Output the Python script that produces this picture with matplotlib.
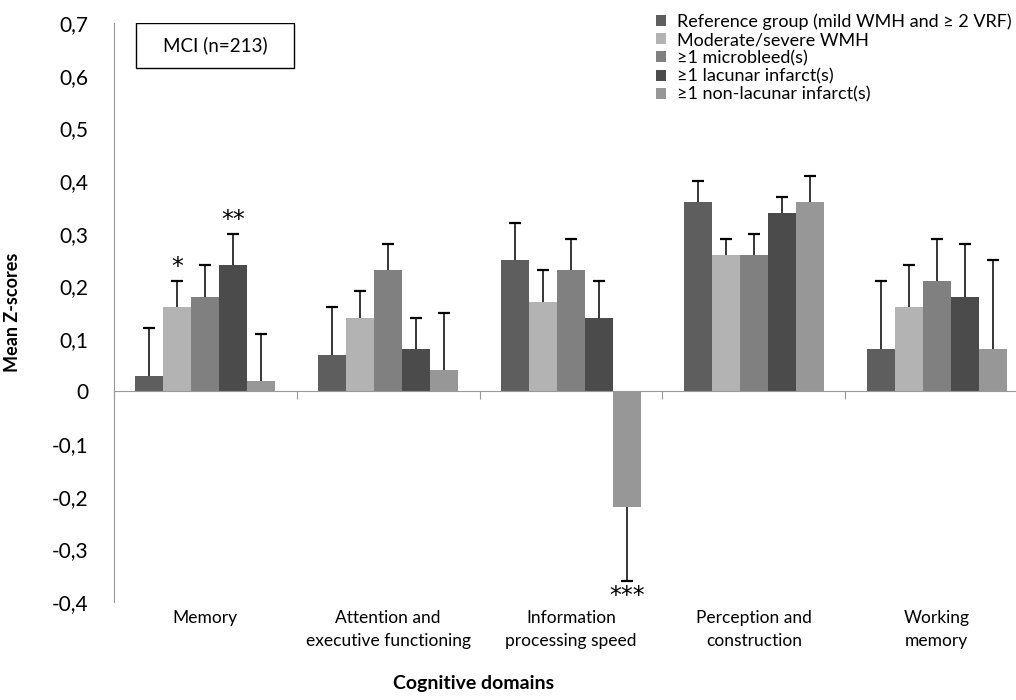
import numpy as np
import matplotlib.pyplot as plt
from matplotlib.patches import Rectangle
from matplotlib.transforms import blended_transform_factory

plt.rcParams['font.family'] = ['Lato', 'DejaVu Sans']

# Data
domains = ['Memory', 'Attention and\nexecutive functioning', 'Information\nprocessing speed',
           'Perception and\nconstruction', 'Working\nmemory']
groups = ['Reference group (mild WMH and \u2265 2 VRF)', 'Moderate/severe WMH',
          '\u22651 microbleed(s)', '\u22651 lacunar infarct(s)', '\u22651 non-lacunar infarct(s)']
reference = [0.03, 0.07, 0.25, 0.36, 0.08]
moderate = [0.16, 0.14, 0.17, 0.26, 0.16]
microbleed = [0.18, 0.23, 0.23, 0.26, 0.21]
lacunar = [0.24, 0.08, 0.14, 0.34, 0.18]
nonlacunar = [0.02, 0.04, -0.22, 0.36, 0.08]
err_reference = [0.09, 0.09, 0.07, 0.04, 0.13]
err_moderate = [0.05, 0.05, 0.06, 0.03, 0.08]
err_microbleed = [0.06, 0.05, 0.06, 0.04, 0.08]
err_lacunar = [0.06, 0.06, 0.07, 0.03, 0.10]
err_nonlacunar = [0.09, 0.11, 0.14, 0.05, 0.17]
colors = ['#5e5e5e', '#b3b3b3', '#808080', '#4b4b4b', '#979797']
yticks = np.arange(-0.4, 0.71, 0.1)

series = [reference, moderate, microbleed, lacunar, nonlacunar]
errors = [err_reference, err_moderate, err_microbleed, err_lacunar, err_nonlacunar]

fig = plt.figure(figsize=(10.16, 7.0), dpi=100)
ax = fig.add_axes([0.112, 0.14, 0.90, 0.827])

x = np.arange(len(domains))
w = 0.153
for i, (vals, errs) in enumerate(zip(series, errors)):
    pos = x + (i - 2) * w
    ax.bar(pos, vals, w, color=colors[i], label=groups[i], zorder=2)
    # one-sided error bars, pointing away from the bar, cap only at the tip
    vals = np.array(vals)
    errs = np.array(errs)
    tips = vals + np.sign(vals) * errs
    ax.vlines(pos, vals, tips, color='black', linewidth=1.1, zorder=3)
    ax.plot(pos, tips, linestyle='none', marker='_', markersize=8,
            markeredgewidth=1.6, color='black', zorder=3)

# significance stars
star_font = dict(ha='center', fontsize=17, family='DejaVu Sans')
ax.text(x[0] - w, 0.213, '*', va='bottom', **star_font)
ax.text(x[0] + w, 0.303, '**', va='bottom', **star_font)
ax.text(x[2] + 2 * w, -0.366, '***', va='top', **star_font)

ax.set_ylim(-0.4, 0.7)
ax.set_xlim(-0.5, len(domains) - 0.5)
ax.set_yticks(yticks)
ax.set_yticklabels([('0' if abs(t) < 1e-9 else f'{t:.1f}'.replace('.', ',')) for t in yticks],
                   fontsize=15)
ax.tick_params(axis='y', length=0, pad=18)

ax.spines['top'].set_visible(False)
ax.spines['right'].set_visible(False)
ax.spines['left'].set_color('#999999')
ax.spines['bottom'].set_color('#999999')
ax.spines['bottom'].set_position(('data', 0))
ax.set_xticks(np.arange(len(domains) + 1) - 0.5)
ax.set_xticklabels([])
ax.tick_params(axis='x', direction='out', length=6, color='#999999')

trans = blended_transform_factory(ax.transData, ax.transAxes)
for xi, name in zip(x, domains):
    ax.text(xi, -0.013, name, transform=trans, ha='center', va='top',
            fontsize=12.5, linespacing=1.55)

ax.set_ylabel('Mean Z-scores', fontsize=13, fontweight='bold')
ax.yaxis.set_label_coords(-0.102, 0.5)
fig.text(0.466, 0.016, 'Cognitive domains', ha='center', fontsize=14, fontweight='bold')

# label box
ax.add_patch(Rectangle((0.024, 0.922), 0.173, 0.078, transform=ax.transAxes,
                       facecolor='white', edgecolor='black', linewidth=1, zorder=4))
ax.text(0.1105, 0.961, 'MCI (n=213)', transform=ax.transAxes, ha='center', va='center',
        fontsize=13.5, zorder=5)

leg = ax.legend(loc='upper left', bbox_to_anchor=(0.575, 1.045), frameon=False, fontsize=13,
                handlelength=0.55, handleheight=0.55, handletextpad=0.6, labelspacing=0.12)

fig.savefig('out.png', dpi=100)
